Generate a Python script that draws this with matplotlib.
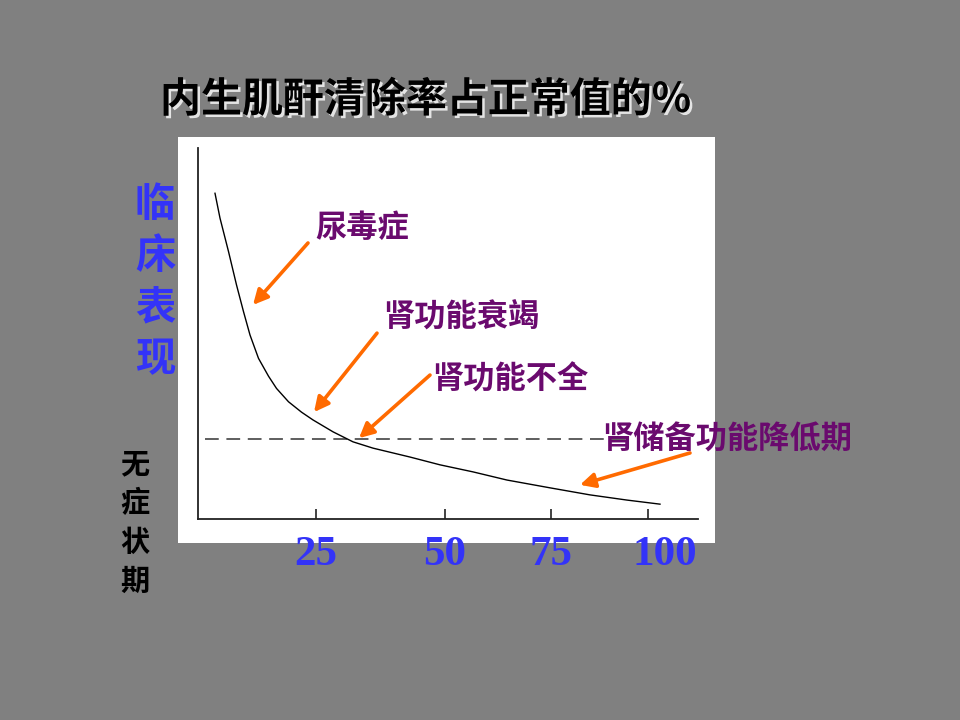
import matplotlib
matplotlib.use("Agg")
import matplotlib.pyplot as plt
import matplotlib.patheffects as pe
from matplotlib.patches import Rectangle
from matplotlib.transforms import ScaledTranslation

plt.rcParams['font.family'] = ['Noto Sans CJK SC', 'DejaVu Sans']

# ---------------- data ----------------
title = "内生肌酐清除率占正常值的%"
curve_x = [3.4, 4.4, 6.1, 7.7, 9.1, 10.4, 12.1, 14.1, 15.7, 18.1, 20.7,
           23.0, 27.0, 31.0, 35.0, 42.4, 48.4, 55.0, 61.8, 70.4, 78.4,
           85.8, 92.4]
curve_y = [87.8, 81.1, 72.1, 63.1, 55.9, 49.6, 43.3, 38.5, 35.2, 31.6, 28.8,
           26.7, 23.5, 20.8, 19.1, 16.7, 14.6, 12.7, 10.5, 8.4, 6.5,
           5.1, 4.0]
threshold_y = 21.5
threshold_x = [1.4, 86.4]
tick_pos = [23.6, 49.4, 70.6, 90.0]
tick_labels = ["25", "50", "75", "100"]
stage_labels = ["尿毒症", "肾功能衰竭", "肾功能不全", "肾储备功能降低期"]
label_xy = [(23.4, 78.4), (37.0, 54.2), (46.8, 37.5), (80.8, 21.3)]
arrow_tail = [(22.0, 74.4), (35.8, 50.1), (46.4, 38.8), (98.4, 17.8)]
arrow_head = [(11.0, 57.7), (23.2, 28.8), (32.2, 21.8), (76.4, 9.2)]
left_top = "临床表现"
left_bottom = "无症状期"

# ---------------- styles ----------------
GRAY = "#808080"
BLUE = "#3333F8"
PURPLE = "#6a0a6e"
ORANGE = "#FF6A00"

fig = plt.figure(figsize=(9.6, 7.2), dpi=100)
fig.patch.set_facecolor(GRAY)

# white panel
fig.patches.append(Rectangle((178/960, (720-543)/720), 537/960, 406/720,
                             transform=fig.transFigure, facecolor="white",
                             edgecolor="none", zorder=-5))

ax = fig.add_axes([198/960, (720-519)/720, 500/960, 371/720])
ax.set_zorder(2)
ax.set_facecolor("none")
ax.set_xlim(0, 100)
ax.set_ylim(0, 100)
for s in ["top", "right"]:
    ax.spines[s].set_visible(False)
for s in ["left", "bottom"]:
    ax.spines[s].set_color("#222222")
    ax.spines[s].set_linewidth(1.3)
ax.set_yticks([])
ax.set_xticks(tick_pos)
ax.set_xticklabels(tick_labels, fontfamily="Liberation Serif",
                   fontweight="bold", fontsize=31, color=BLUE)
ax.tick_params(axis="x", direction="in", length=7, width=1.2, color="#222222",
               pad=12)
last = ax.get_xticklabels()[-1]
last.set_transform(last.get_transform() + ScaledTranslation(0.17, 0, fig.dpi_scale_trans))

# curve and threshold
ax.plot(curve_x, curve_y, color="black", lw=1.0, zorder=3)
ax.plot(threshold_x, [threshold_y, threshold_y], color="#333333", lw=1.1,
        dashes=(9.0, 5.0), zorder=2, clip_on=False)

# arrows
for (tx, ty), (hx, hy) in zip(arrow_tail, arrow_head):
    ax.annotate("", xy=(hx, hy), xytext=(tx, ty),
                arrowprops=dict(arrowstyle="-|>", color=ORANGE, lw=2.6,
                                mutation_scale=22, shrinkA=0, shrinkB=0),
                annotation_clip=False, zorder=5)

# stage labels
for txt, (x, y) in zip(stage_labels, label_xy):
    ax.text(x, y, txt, color=PURPLE, fontsize=22.5, fontweight="bold",
            ha="left", va="center", clip_on=False, zorder=6)

# title
fig.text(160/960, 1-100/720, title, fontsize=29.5, fontweight="bold",
         color="black", ha="left", va="center",
         path_effects=[pe.withSimplePatchShadow(offset=(1.8, -1.8),
                                                shadow_rgbFace="#f0f0f0",
                                                alpha=0.9)])

# left vertical labels
for i, ch in enumerate(left_top):
    fig.text(155/960, 1-(204+52*i)/720, ch, fontsize=29, color=BLUE,
             fontweight="bold", ha="center", va="center")
for i, ch in enumerate(left_bottom):
    fig.text(135/960, 1-(464+39*i)/720, ch, fontsize=21, color="black",
             fontweight="bold", ha="center", va="center")

fig.savefig("out.png", dpi=100, facecolor=fig.get_facecolor())
